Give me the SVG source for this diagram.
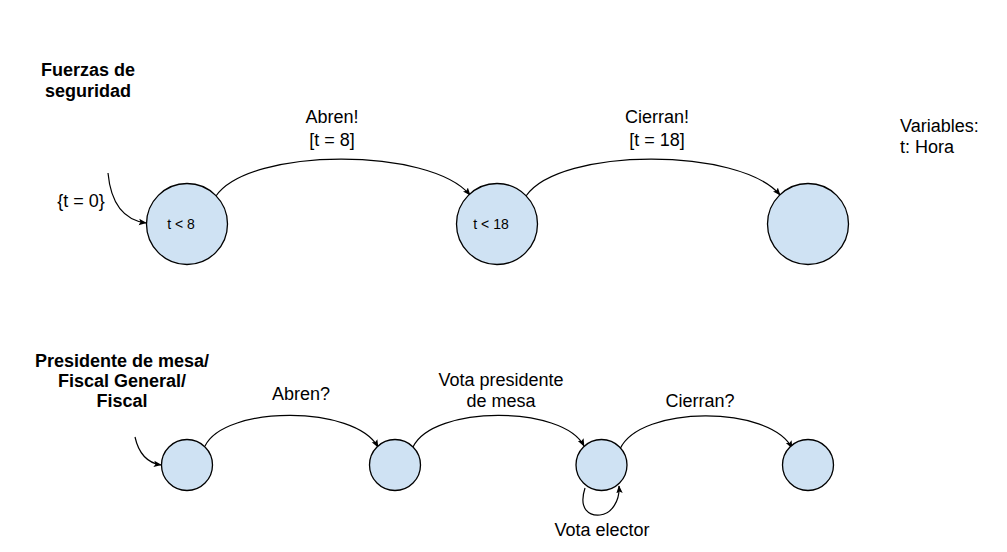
<svg xmlns="http://www.w3.org/2000/svg" width="1007" height="552" viewBox="0 0 1007 552">
<style>
.st{fill:#cfe2f3;stroke:#000;stroke-width:1.3}
.e{fill:none;stroke:#000;stroke-width:1.2}
.t{font-family:"Liberation Sans",Arial,sans-serif;font-size:18px;fill:#000;text-anchor:middle}
.b{font-weight:bold}
.s{font-size:14px}
.l{text-anchor:start}
</style>
<defs>
<marker id="ah" viewBox="0 0 10 10" refX="9" refY="5" markerWidth="8" markerHeight="8" markerUnits="userSpaceOnUse" orient="auto">
<path d="M0,1 L10,5 L0,9 L2,5 Z" fill="#000"/>
</marker>
</defs>
<rect width="1007" height="552" fill="#fff"/>
<g id="titles">
<text class="t b" x="88" y="76">Fuerzas de</text>
<text class="t b" x="88" y="97">seguridad</text>
<text class="t b" x="122" y="367">Presidente de mesa/</text>
<text class="t b" x="122" y="387">Fiscal General/</text>
<text class="t b" x="122" y="407">Fiscal</text>
<text class="t l" x="900" y="132">Variables:</text>
<text class="t l" x="900" y="153">t: Hora</text>
</g>
<g id="connectors">
<path class="e" d="M108,173 C111,205 124,220 146,223" marker-end="url(#ah)"/>
<path class="e" d="M216,196 C250,147 430,147 470,195" marker-end="url(#ah)"/>
<path class="e" d="M526,196 C560,147 740,147 780,195" marker-end="url(#ah)"/>
<path class="e" d="M135,437 C139,455 148,463 161,465" marker-end="url(#ah)"/>
<path class="e" d="M205,446 C225,405 355,405 378,447" marker-end="url(#ah)"/>
<path class="e" d="M413,447 C433,405 563,405 584,446" marker-end="url(#ah)"/>
<path class="e" d="M620,449 C640,405 770,405 792,448" marker-end="url(#ah)"/>
<path class="e" d="M585,488 C578,510 590,516 600,515 C612,514 620,500 619,486" marker-end="url(#ah)"/>
<text class="t" x="81" y="207">{t = 0}</text>
<text class="t" x="332" y="123">Abren!</text>
<text class="t" x="332" y="146">[t = 8]</text>
<text class="t" x="657" y="123">Cierran!</text>
<text class="t" x="657" y="146">[t = 18]</text>
<text class="t" x="301" y="400">Abren?</text>
<text class="t" x="501" y="386">Vota presidente</text>
<text class="t" x="501" y="407">de mesa</text>
<text class="t" x="700" y="407">Cierran?</text>
<text class="t" x="602" y="536">Vota elector</text>
</g>
<g id="n1"><circle class="st" cx="187" cy="224" r="40.5"/><text class="t s" x="181" y="229">t &lt; 8</text></g>
<g id="n2"><circle class="st" cx="497" cy="224" r="40.5"/><text class="t s" x="491" y="229">t &lt; 18</text></g>
<g id="n3"><circle class="st" cx="808" cy="224" r="40.5"/></g>
<g id="n4"><circle class="st" cx="187" cy="465" r="25.5"/></g>
<g id="n5"><circle class="st" cx="395" cy="465" r="25.5"/></g>
<g id="n6"><circle class="st" cx="601.5" cy="465" r="25.5"/></g>
<g id="n7"><circle class="st" cx="808" cy="465" r="25.5"/></g>
</svg>
